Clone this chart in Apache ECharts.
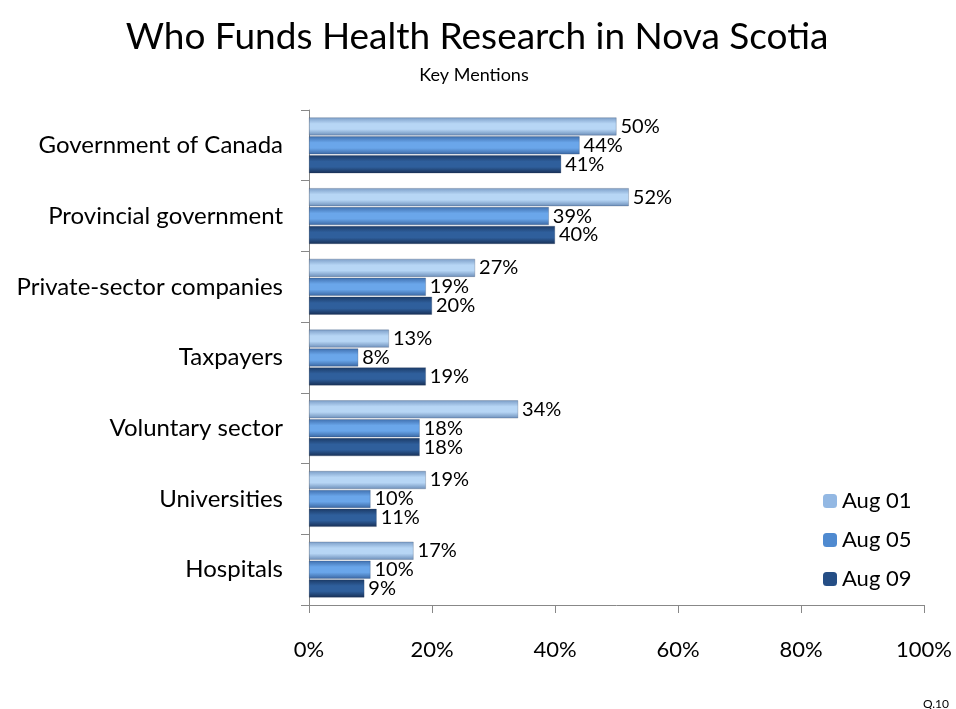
<!DOCTYPE html>
<html><head><meta charset="utf-8">
<script src="https://cdn.jsdelivr.net/npm/echarts@6/dist/echarts.min.js"></script>
<style>html,body{margin:0;padding:0;background:#fff}#c{width:956px;height:709px}</style>
</head><body><div id="c"></div>
<script>
const categories = ['Government of Canada','Provincial government','Private-sector companies','Taxpayers','Voluntary sector','Universities','Hospitals'];
const seriesNames = ['Aug 01','Aug 05','Aug 09'];
const aug01 = [50,52,27,13,34,19,17];
const aug05 = [44,39,19,8,18,10,10];
const aug09 = [41,40,20,19,18,11,9];
const xTicks = [0,20,40,60,80,100];

const FONT = 'Lato';
function grad(top, mid, bot){
  return new echarts.graphic.LinearGradient(0,0,0,1,[
    {offset:0,color:top},{offset:0.35,color:mid},{offset:0.65,color:mid},{offset:1,color:bot}]);
}
const colors = [
  grad('#7c9ec8','#b7d6f5','#6d8fba'),
  grad('#3f6fae','#6aa6ea','#3a67a3'),
  grad('#1b3a66','#2f5f9c','#172f55')
];
const solid = ['#93b8e3','#4f8ad0','#254e85'];
const data = [aug01, aug05, aug09];
const chart = echarts.init(document.getElementById('c'));
chart.setOption({
  animation:false,
  textStyle:{fontFamily:FONT},
  title:[{text:'Who Funds Health Research in Nova Scotia',left:472,textAlign:'center',top:14,
          textStyle:{fontFamily:FONT,fontSize:37,fontWeight:'normal',color:'#000'}},
         {text:'Key Mentions',left:469,textAlign:'center',top:61,
          textStyle:{fontFamily:FONT,fontSize:18,fontWeight:'normal',color:'#000'}},
         {text:'Q.10',left:931,textAlign:'center',top:693,
          textStyle:{fontFamily:FONT,fontSize:12,fontWeight:'normal',color:'#000'}}],
  legend:{orient:'vertical',left:818,top:485,itemWidth:14,itemHeight:14,itemGap:17,
          data:seriesNames.map((n,i)=>({name:n,itemStyle:{color:solid[i],borderWidth:0}})),
          textStyle:{fontFamily:FONT,fontSize:22,color:'#000'}},
  grid:{left:309,right:32,top:110,bottom:104,containLabel:false},
  xAxis:{type:'value',min:0,max:100,interval:20,
    axisLine:{show:true,lineStyle:{color:'#888'}},
    axisTick:{show:true,length:8,lineStyle:{color:'#888'}},
    splitLine:{show:false},
    axisLabel:{formatter:v=>v+'%',margin:34,fontSize:22,color:'#000',fontFamily:FONT}},
  yAxis:{type:'category',data:categories,inverse:true,
    axisLine:{show:true,lineStyle:{color:'#888'}},
    axisTick:{show:true,length:8,lineStyle:{color:'#888'}},
    axisLabel:{margin:26,fontSize:24,color:'#000',fontFamily:FONT}},
  series:seriesNames.map((n,i)=>({
    name:n,type:'bar',data:data[i],barWidth:18,barGap:'5%',
    itemStyle:{color:colors[i],borderColor:'rgba(40,60,90,0.5)',borderWidth:0.5},
    label:{show:true,position:'right',distance:4,formatter:'{c}%',fontSize:20,color:'#000',fontFamily:FONT}
  }))
});
</script></body></html>
